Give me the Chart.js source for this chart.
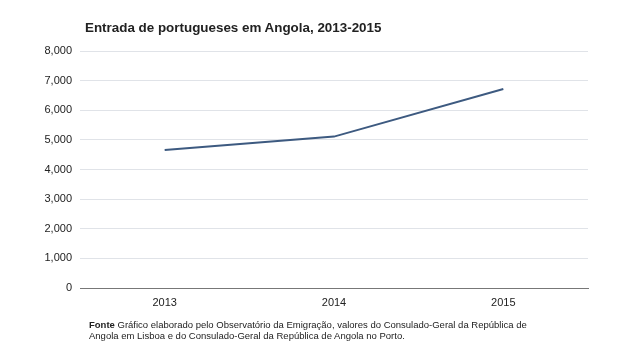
<!DOCTYPE html>
<html>
<head>
<meta charset="utf-8">
<script src="https://cdn.jsdelivr.net/npm/chart.js@4"></script>
<style>
  body { margin: 0; background: #fff; font-family: "Liberation Sans", Arial, sans-serif; }
  #wrap { position: relative; width: 642px; height: 361px; }
  #title { position: absolute; left: 85px; top: 20px; font-size: 13.4px; font-weight: bold; color: #222; white-space: nowrap; }
  #source { position: absolute; left: 89px; top: 319px; font-size: 9.5px; line-height: 11px; color: #222; white-space: nowrap; }
</style>
</head>
<body>
<div id="wrap">
  <canvas id="chart" width="642" height="361"></canvas>
  <div id="title">Entrada de portugueses em Angola, 2013-2015</div>
  <div id="source"><b>Fonte</b> Gráfico elaborado pelo Observatório da Emigração, valores do Consulado-Geral da República de<br>Angola em Lisboa e do Consulado-Geral da República de Angola no Porto.</div>
</div>
<script>
const years = ['2013', '2014', '2015'];
const entradas = [4660, 5110, 6720];
const yTicks = [0, 1000, 2000, 3000, 4000, 5000, 6000, 7000, 8000];

document.addEventListener('DOMContentLoaded', () => {
    const ctx = document.getElementById('chart').getContext('2d');
    new Chart(ctx, {
        type: 'line',
        data: {
            labels: years,
            datasets: [{
                label: 'Entradas',
                data: entradas,
                borderColor: '#3d5a80',
                borderWidth: 2,
                pointRadius: 0,
                tension: 0,
                fill: false
            }]
        },
        options: {
            responsive: false,
            animation: false,
            layout: { padding: { left: 10, right: 54, top: 51, bottom: 43 } },
            plugins: {
                legend: { display: false },
                tooltip: { enabled: false }
            },
            scales: {
                x: {
                    offset: true,
                    grid: { display: false },
                    border: { display: true, color: '#777', width: 1 },
                    ticks: { color: '#222', font: { family: 'Liberation Sans', size: 11 }, padding: 0 },
                    afterFit: scale => { scale.height = 30; }
                },
                y: {
                    min: 0,
                    max: 8000,
                    afterBuildTicks: scale => { scale.ticks = yTicks.map(v => ({ value: v })); },
                    grid: {
                        color: c => c.tick && c.tick.value === 0 ? '#777' : '#e0e3e8',
                        drawTicks: false
                    },
                    border: { display: false },
                    ticks: {
                        color: '#222',
                        font: { family: 'Liberation Sans', size: 11 },
                        padding: 8,
                        callback: v => v.toLocaleString('en-US')
                    },
                    afterFit: scale => { scale.width = 70; }
                }
            }
        }
    });
});
</script>
</body>
</html>
